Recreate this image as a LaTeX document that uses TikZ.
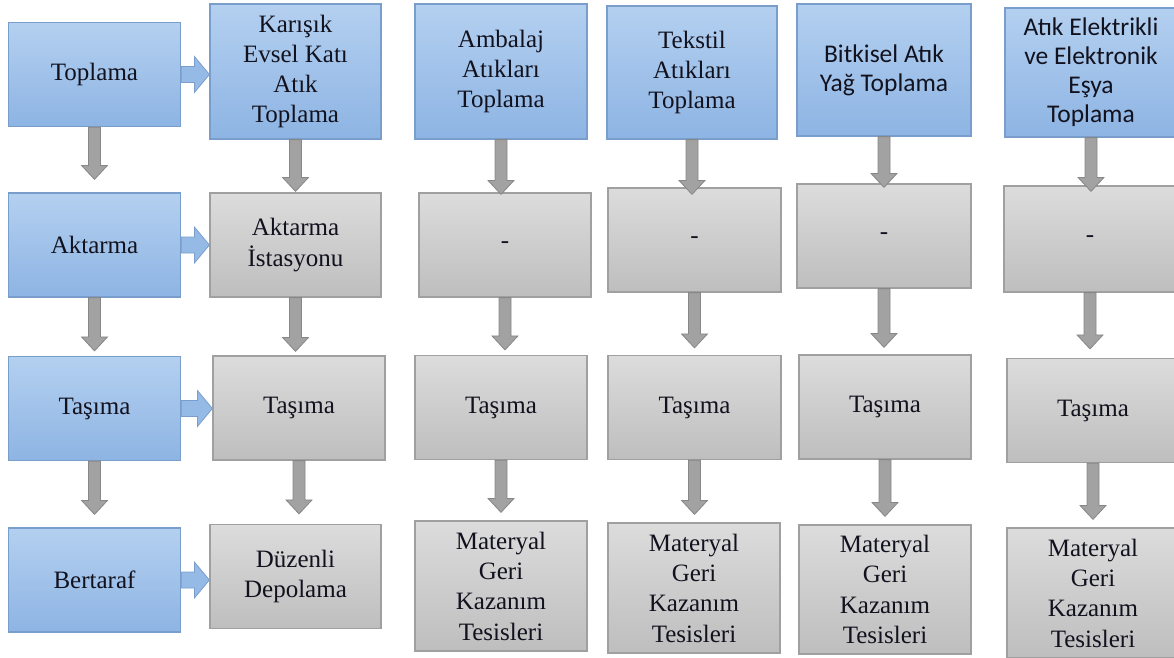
\documentclass[tikz,border=0pt]{standalone}
\usepackage{fontspec}
\setmainfont{Liberation Serif}
\newfontfamily\sansfnt{Carlito}
\usetikzlibrary{calc}
\definecolor{fg}{rgb}{0.07,0.07,0.12}
\definecolor{bluetop}{RGB}{180,208,240}
\definecolor{bluebot}{RGB}{141,180,227}
\definecolor{bluebd}{RGB}{122,158,204}
\definecolor{greytop}{RGB}{220,220,220}
\definecolor{greybot}{RGB}{190,190,190}
\definecolor{greybd}{RGB}{160,160,160}
\definecolor{arrowfill}{RGB}{162,162,162}
\definecolor{arrowbd}{RGB}{135,135,135}
\tikzstyle{box}=[draw, line width=1.2pt, anchor=center, align=center, text=fg,
minimum width=172pt, minimum height=104pt, inner sep=2pt,
font=\fontsize{25}{30.3}\selectfont]
\tikzstyle{bluebox}=[box, draw=bluebd, top color=bluetop, bottom color=bluebot]
\tikzstyle{greybox}=[box, draw=greybd, top color=greytop, bottom color=greybot]
\tikzstyle{sansbox}=[font=\sansfnt\fontsize{25.5}{29}\selectfont]
\tikzstyle{downarrow}=[draw=arrowbd, fill=arrowfill, line width=0.8pt]
\tikzstyle{rightarrow}=[draw=bluebd, fill=bluebot!80!bluetop, line width=0.8pt]

% grey block arrow, optional gap between tip and target
\newcommand{\dnarrow}[3][0pt]{%
  \draw[downarrow] let \p1=(#2.south), \p2=(#3.north) in
    ({\x1-6pt},\y1) -- ({\x1-6pt},{\y2+#1+14pt}) -- ({\x1-13pt},{\y2+#1+14pt})
    -- (\x1,{\y2+#1}) -- ({\x1+13pt},{\y2+#1+14pt}) -- ({\x1+6pt},{\y2+#1+14pt})
    -- ({\x1+6pt},\y1) -- cycle;}
% blue block arrow
\newcommand{\rtarrow}[2]{%
  \draw[rightarrow] let \p1=(#1.east), \p2=(#2.west) in
    (\x1,{\y1+8pt}) -- ({\x2-15pt},{\y1+8pt}) -- ({\x2-15pt},{\y1+18pt})
    -- (\x2,\y1) -- ({\x2-15pt},{\y1-18pt}) -- ({\x2-15pt},{\y1-8pt})
    -- (\x1,{\y1-8pt}) -- cycle;}

\begin{document}
\begin{tikzpicture}[x=1pt, y=-1pt]
    \useasboundingbox (0,0) rectangle (1174,657);

    % steps
    \node[bluebox] (T0) at (94.5, 74.5) {Toplama};
    \node[bluebox] (A0) at (94.5, 245) {Aktarma};
    \node[bluebox] (S0) at (94.5, 408.5) {Taşıma};
    \node[bluebox] (B0) at (94.5, 580) {Bertaraf};

    % mixed household waste
    \node[bluebox, minimum width=171pt, minimum height=135pt] (T1) at (295.5, 71.5)
        {Karışık\\Evsel Katı\\Atık\\Toplama};
    \node[greybox, minimum width=171pt] (A1) at (295.5, 245) {Aktarma\\İstasyonu};
    \node[greybox] (S1) at (299, 408) {Taşıma};
    \node[greybox, minimum width=171pt] (B1) at (295.5, 576.5) {Düzenli\\Depolama};

    % packaging
    \node[bluebox, minimum height=135pt] (T2) at (501, 71.5)
        {Ambalaj\\Atıkları\\Toplama};
    \node[greybox] (A2) at (505, 245) {-};
    \node[greybox] (S2) at (501, 407.5) {Taşıma};
    \node[greybox, minimum height=130pt] (B2) at (501, 586)
        {Materyal\\Geri\\Kazanım\\Tesisleri};

    % textile
    \node[bluebox, minimum width=170pt, minimum height=133pt] (T3) at (692, 72.5)
        {Tekstil\\Atıkları\\Toplama};
    \node[greybox, minimum width=173pt] (A3) at (694.5, 240) {-};
    \node[greybox, minimum width=173pt] (S3) at (694.5, 407.5) {Taşıma};
    \node[greybox, minimum height=130pt] (B3) at (694, 588)
        {Materyal\\Geri\\Kazanım\\Tesisleri};

    % vegetable oil
    \node[bluebox, sansbox, minimum width=174pt, minimum height=132pt] (T4) at (884, 70)
        {Bitkisel Atık\\Yağ Toplama};
    \node[greybox, minimum width=174pt] (A4) at (884, 236) {-};
    \node[greybox] (S4) at (885, 407) {Taşıma};
    \node[greybox, minimum height=129pt] (B4) at (885, 589.5)
        {Materyal\\Geri\\Kazanım\\Tesisleri};

    % electrical and electronic equipment
    \node[bluebox, sansbox, minimum height=129pt] (T5) at (1091, 72.5)
        {Atık Elektrikli\\ve Elektronik\\Eşya\\Toplama};
    \node[greybox, minimum height=106pt] (A5) at (1090, 239) {-};
    \node[greybox] (S5) at (1093, 410.5) {Taşıma};
    \node[greybox, minimum height=130pt] (B5) at (1093, 593)
        {Materyal\\Geri\\Kazanım\\Tesisleri};

    \rtarrow{T0}{T1}
    \rtarrow{A0}{A1}
    \rtarrow{S0}{S1}
    \rtarrow{B0}{B1}

    \dnarrow[13pt]{T0}{A0}
    \dnarrow[5pt]{A0}{S0}
    \dnarrow[13pt]{S0}{B0}
    \dnarrow[1pt]{T1}{A1}
    \dnarrow[4pt]{A1}{S1}
    \dnarrow[10pt]{S1}{B1}
    \dnarrow[-2pt]{T2}{A2}
    \dnarrow[5pt]{A2}{S2}
    \dnarrow[8pt]{S2}{B2}
    \dnarrow[-7pt]{T3}{A3}
    \dnarrow[7pt]{A3}{S3}
    \dnarrow[8pt]{S3}{B3}
    \dnarrow[-4pt]{T4}{A4}
    \dnarrow[7pt]{A4}{S4}
    \dnarrow[8pt]{S4}{B4}
    \dnarrow[-6pt]{T5}{A5}
    \dnarrow[9pt]{A5}{S5}
    \dnarrow[8pt]{S5}{B5}
\end{tikzpicture}
\end{document}
